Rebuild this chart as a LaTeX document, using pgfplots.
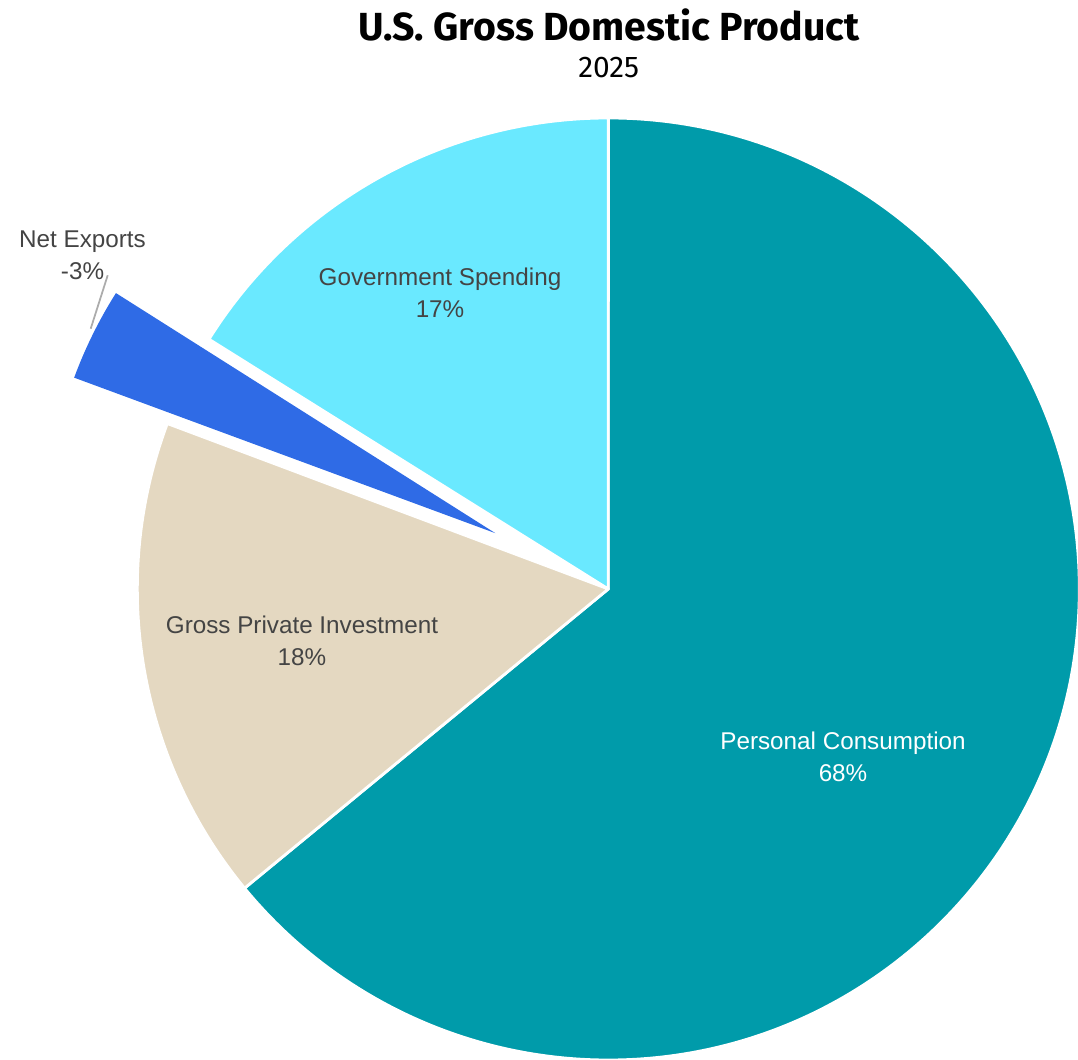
\documentclass[border=0pt]{standalone}
\usepackage{pgfplots}
\pgfplotsset{compat=1.18}
\usepackage{pgfplotstable}
\usepackage{fontspec}
\setmainfont{Liberation Sans}
\newfontfamily\titlefont{Fira Sans}

\definecolor{pcCol}{HTML}{009BAA}
\definecolor{gpiCol}{HTML}{E4D8C1}
\definecolor{nxCol}{HTML}{2F6BE6}
\definecolor{govCol}{HTML}{6AE9FF}
\definecolor{lblCol}{HTML}{444444}

% components of GDP, clockwise from 12 o'clock (percent)
\pgfplotstableread{
name value
PC   68.4
GPI  17.8
NX   -3.4
GOV  17.2
}\gdptable

\pgfplotstablegetelem{0}{value}\of\gdptable \let\vPC\pgfplotsretval
\pgfplotstablegetelem{1}{value}\of\gdptable \let\vGPI\pgfplotsretval
\pgfplotstablegetelem{2}{value}\of\gdptable \let\vNX\pgfplotsretval
\pgfplotstablegetelem{3}{value}\of\gdptable \let\vGOV\pgfplotsretval

% slice size uses absolute values
\pgfmathsetmacro\tot{abs(\vPC)+abs(\vGPI)+abs(\vNX)+abs(\vGOV)}
\pgfmathsetmacro\aA{90}
\pgfmathsetmacro\aB{\aA-360*(abs(\vPC)/\tot)}
\pgfmathsetmacro\aC{\aB-360*(abs(\vGPI)/\tot)}
\pgfmathsetmacro\aD{\aC-360*(abs(\vNX)/\tot)}
\pgfmathsetmacro\aE{\aD-360*(abs(\vGOV)/\tot)}
\pgfmathsetmacro\aNX{(\aC+\aD)/2}

\newcommand\lbl{\fontsize{6.9}{9.1}\selectfont}

\begin{document}
\begin{tikzpicture}
\begin{axis}[
    x=4.71cm, y=4.71cm,
    xmin=-1.2915, xmax=0.9972,
    ymin=-0.9979, ymax=1.2505,
    hide axis,
    clip=false,
]
\coordinate (bl) at (rel axis cs:0,0);
\coordinate (tr) at (rel axis cs:1,1);

\begin{scope}[draw=white, line width=0.8pt, line join=round]
\filldraw[fill=pcCol] (axis cs:0,0) -- ++(\aA:4.71cm) arc[start angle=\aA, end angle=\aB, radius=4.71cm] -- cycle;
\filldraw[fill=gpiCol] (axis cs:0,0) -- ++(\aB:4.71cm) arc[start angle=\aB, end angle=\aC, radius=4.71cm] -- cycle;
\filldraw[fill=govCol] (axis cs:0,0) -- ++(\aD:4.71cm) arc[start angle=\aD, end angle=\aE, radius=4.71cm] -- cycle;
\end{scope}
% exploded slice
\fill[nxCol] (axis cs:0,0) ++(\aNX:1.26cm) -- ++(\aC+0.3:4.49cm) arc[start angle=\aC+0.3, end angle=\aD-0.3, radius=4.49cm] -- cycle;

\draw[color=gray!65, line width=0.5pt] (axis cs:-1.0989,0.5527) -- (axis cs:-1.0628,0.6661);

\node[align=center, text=white, font=\lbl] at (axis cs:0.4983,-0.3567) {Personal Consumption\\68\%};
\node[align=center, text=lblCol, font=\lbl] at (axis cs:-0.6503,-0.1104) {Gross Private Investment\\18\%};
\node[align=center, text=lblCol, font=\lbl] at (axis cs:-0.3573,0.6295) {Government Spending\\17\%};
\node[align=center, text=lblCol, font=\lbl] at (axis cs:-1.1163,0.7091) {Net Exports\\-3\%};

\node[font=\titlefont\bfseries\fontsize{11.15}{13}\selectfont] at (axis cs:0.001,1.1975) {U.S. Gross Domestic Product};
\node[font=\titlefont\fontsize{8.5}{10}\selectfont] at (axis cs:0.001,1.108) {2025};
\end{axis}
\pgfresetboundingbox
\useasboundingbox (bl) rectangle (tr);
\end{tikzpicture}
\end{document}
